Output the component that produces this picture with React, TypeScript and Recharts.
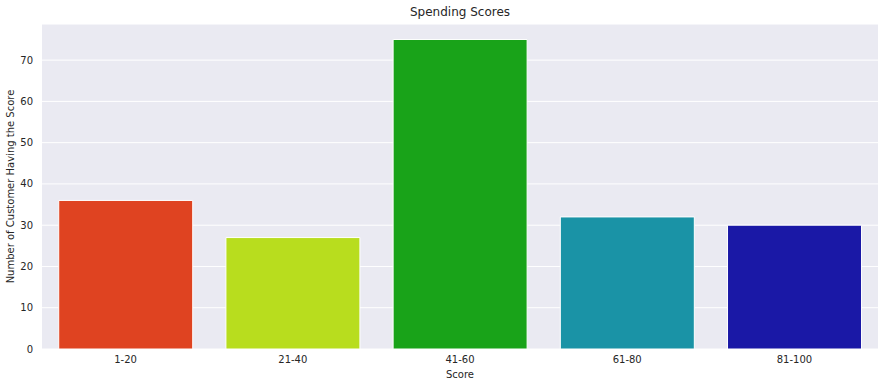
import { Bar, BarChart, CartesianGrid, Cell, XAxis, YAxis } from "recharts";

const scoreRanges = ["1-20", "21-40", "41-60", "61-80", "81-100"];
const customerCounts = [36, 27, 75, 32, 30];
const yTicks = [0, 10, 20, 30, 40, 50, 60, 70];
const palette = ["#df4321", "#b8dd1e", "#19a319", "#1a93a6", "#1a18a6"];

const data = scoreRanges.map((range, i) => ({ range, count: customerCounts[i] }));

const font = "'DejaVu Sans', sans-serif";
const tickStyle = { fontSize: 10, fill: "#262626", fontFamily: font };

export default function App() {
  return (
    <div style={{ position: "absolute", left: 0, top: 0, width: 888, height: 387, background: "#fff" }}>
      <div
        style={{
          position: "absolute",
          top: 5,
          left: 42,
          width: 836,
          textAlign: "center",
          fontFamily: font,
          fontSize: 12,
          color: "#262626",
        }}
      >
        Spending Scores
      </div>
      <BarChart
        width={888}
        height={387}
        data={data}
        margin={{ top: 24, right: 10, bottom: 0, left: 0 }}
        barCategoryGap="10%"
      >
        <CartesianGrid fill="#eaeaf2" stroke="#ffffff" strokeWidth={1} vertical={false} />
        <XAxis
          dataKey="range"
          axisLine={false}
          tickLine={false}
          tickSize={0}
          tickMargin={7}
          height={38}
          tick={tickStyle}
          label={{ value: "Score", position: "insideBottom", offset: 9, style: tickStyle }}
        />
        <YAxis
          domain={[0, 78.75]}
          ticks={yTicks}
          axisLine={false}
          tickLine={false}
          tickSize={0}
          tickMargin={9}
          width={42}
          tick={tickStyle}
          label={{
            value: "Number of Customer Having the Score",
            angle: -90,
            position: "insideLeft",
            offset: 10,
            style: { ...tickStyle, textAnchor: "middle" },
          }}
        />
        <Bar dataKey="count" stroke="#ffffff" strokeWidth={1} isAnimationActive={false}>
          {data.map((d, i) => (
            <Cell key={d.range} fill={palette[i]} />
          ))}
        </Bar>
      </BarChart>
    </div>
  );
}
